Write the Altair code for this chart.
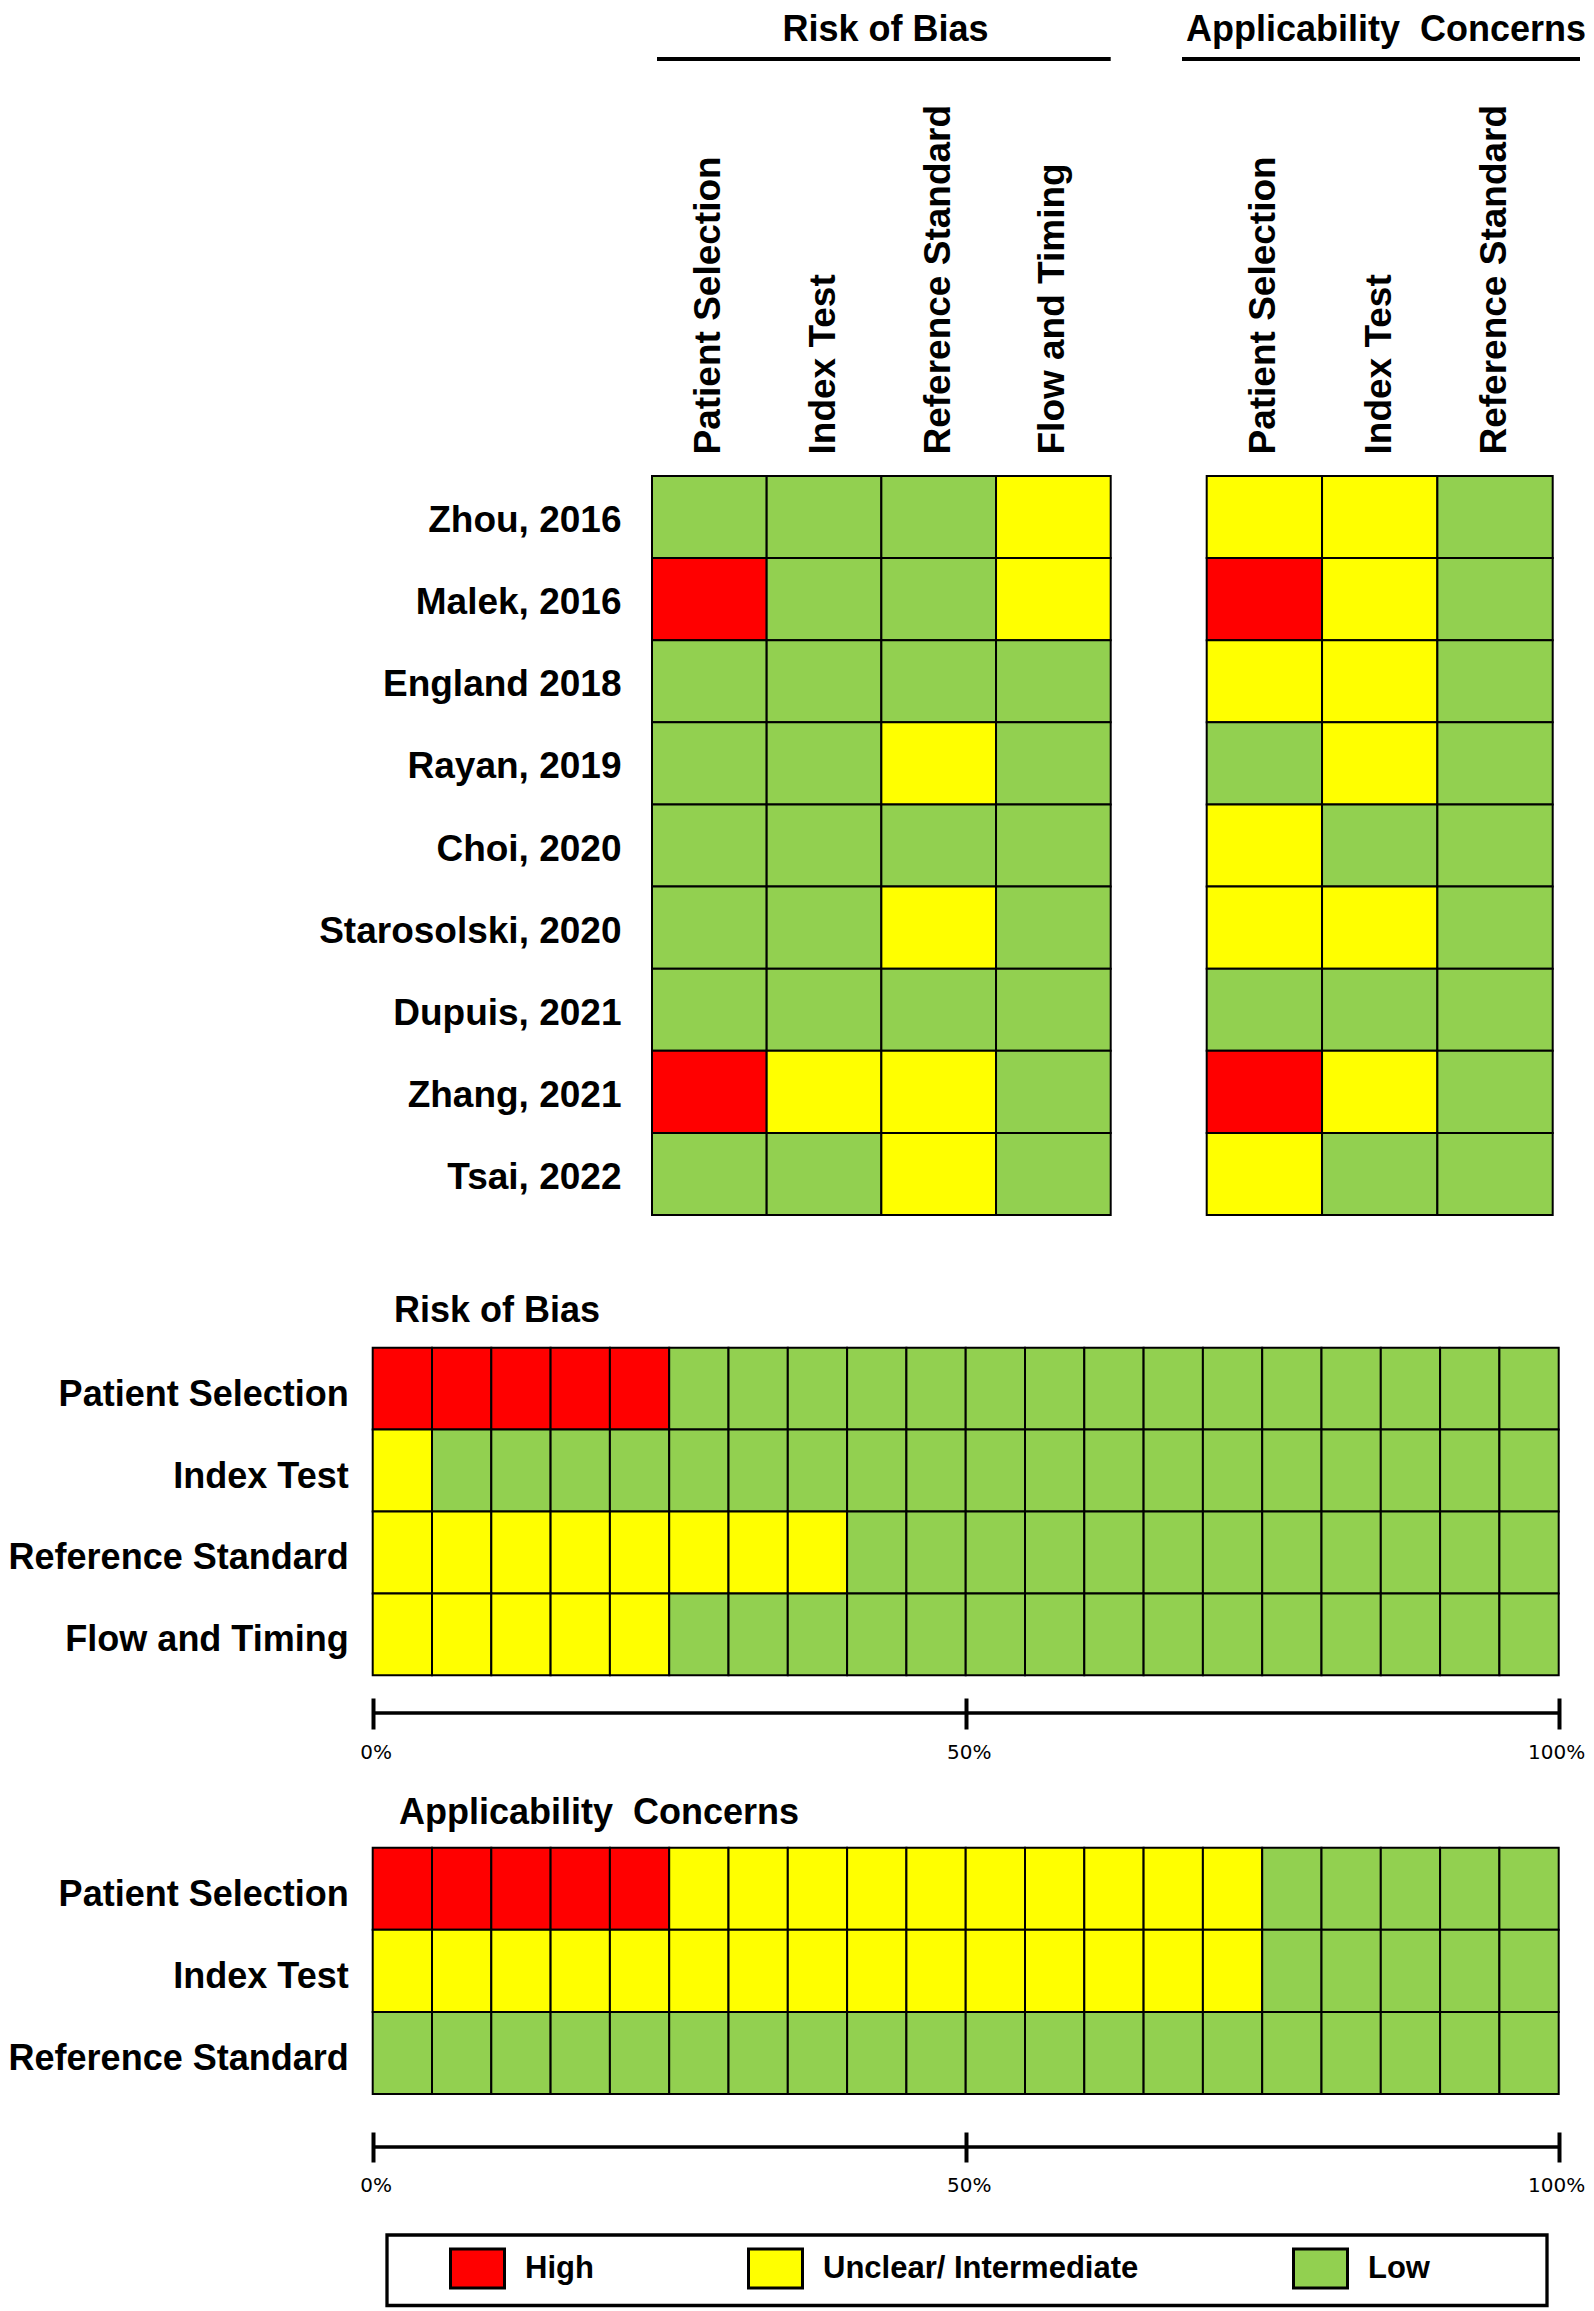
import altair as alt
import pandas as pd

# ---------------- data ----------------
studies = ["Zhou, 2016", "Malek, 2016", "England 2018", "Rayan, 2019", "Choi, 2020",
           "Starosolski, 2020", "Dupuis, 2021", "Zhang, 2021", "Tsai, 2022"]
rob_domains = ["Patient Selection", "Index Test", "Reference Standard", "Flow and Timing"]
ac_domains = ["Patient Selection", "Index Test", "Reference Standard"]

HIGH, UNCLEAR, LOW = "High", "Unclear/ Intermediate", "Low"
judgements = [HIGH, UNCLEAR, LOW]
judgement_colors = ["#FF0000", "#FFFF00", "#92D050"]

# per-study judgements (order = studies)
rob_patient_selection = [LOW, HIGH, LOW, LOW, LOW, LOW, LOW, HIGH, LOW]
rob_index_test = [LOW, LOW, LOW, LOW, LOW, LOW, LOW, UNCLEAR, LOW]
rob_reference_standard = [LOW, LOW, LOW, UNCLEAR, LOW, UNCLEAR, LOW, UNCLEAR, UNCLEAR]
rob_flow_timing = [UNCLEAR, UNCLEAR, LOW, LOW, LOW, LOW, LOW, LOW, LOW]

ac_patient_selection = [UNCLEAR, HIGH, UNCLEAR, LOW, UNCLEAR, UNCLEAR, LOW, HIGH, UNCLEAR]
ac_index_test = [UNCLEAR, UNCLEAR, UNCLEAR, UNCLEAR, LOW, UNCLEAR, LOW, UNCLEAR, LOW]
ac_reference_standard = [LOW, LOW, LOW, LOW, LOW, LOW, LOW, LOW, LOW]

# summary percentages (order = domains)
rob_summary_high = [25, 0, 0, 0]
rob_summary_unclear = [0, 5, 40, 25]
rob_summary_low = [75, 95, 60, 75]
ac_summary_high = [25, 0, 0]
ac_summary_unclear = [50, 75, 0]
ac_summary_low = [25, 25, 100]

axis_ticks = [0, 50, 100]
CELL = 5  # each summary block = 5 %

section_titles = ["Risk of Bias", "Applicability\u00a0 Concerns"]

# ---------------- style ----------------
W, H = 1578, 2303
BOLD = "Liberation Sans"
TICKFONT = "DejaVu Sans"


def grid_table(columns, domains):
    rows = []
    for d, col in zip(domains, columns):
        for s, j in zip(studies, col):
            rows.append({"study": s, "domain": d, "judgement": j})
    return pd.DataFrame(rows)


def summary_table(domains, high, unclear, low):
    rows = []
    for d, h, u, l in zip(domains, high, unclear, low):
        seq = [HIGH] * (h // CELL) + [UNCLEAR] * (u // CELL) + [LOW] * (l // CELL)
        for i, j in enumerate(seq):
            rows.append({"domain": d, "start": i * CELL, "end": (i + 1) * CELL, "judgement": j})
    return pd.DataFrame(rows)


rob_df = grid_table([rob_patient_selection, rob_index_test, rob_reference_standard, rob_flow_timing], rob_domains)
ac_df = grid_table([ac_patient_selection, ac_index_test, ac_reference_standard], ac_domains)
rob_sum_df = summary_table(rob_domains, rob_summary_high, rob_summary_unclear, rob_summary_low)
ac_sum_df = summary_table(ac_domains, ac_summary_high, ac_summary_unclear, ac_summary_low)

legend = alt.Legend(
    orient="none", legendX=441, legendY=2232, direction="horizontal",
    title=None, padding=0,
    symbolType="M-1,-0.72H1V0.72H-1Z", symbolSize=2916,
    symbolStrokeColor="black", symbolStrokeWidth=3,
    labelFont=BOLD, labelFontWeight="bold", labelFontSize=31, labelColor="black",
    labelOffset=19, labelLimit=1000, columnPadding=148,
)
color_enc = alt.Color("judgement:N", scale=alt.Scale(domain=judgements, range=judgement_colors), legend=legend)


def band(rng):
    return alt.Scale(range=rng, paddingInner=0, paddingOuter=0)


def top_x_axis():
    return alt.Axis(orient="top", offset=-468, labelAngle=-90, labelAlign="left", labelBaseline="middle",
                    labelPadding=22, ticks=False, domain=False, title=None, labelFont=BOLD,
                    labelFontWeight="bold", labelFontSize=37, labelColor="black", labelLimit=1000)


y_top_range = [468, 1207]

top_rob = alt.Chart(rob_df).mark_rect(stroke="black", strokeWidth=2).encode(
    x=alt.X("domain:N", sort=rob_domains, scale=band([644, 1102.7]), axis=top_x_axis()),
    y=alt.Y("study:N", sort=studies, scale=band(y_top_range),
            axis=alt.Axis(orient="left", offset=-644, labelPadding=31, labelOffset=4, ticks=False, domain=False,
                          title=None, labelFont=BOLD, labelFontWeight="bold", labelFontSize=37,
                          labelColor="black", labelLimit=1000)),
    color=color_enc,
)

top_ac = alt.Chart(ac_df).mark_rect(stroke="black", strokeWidth=2).encode(
    x=alt.X("domain:N", sort=ac_domains, scale=band([1198.7, 1544.7]), axis=top_x_axis()),
    y=alt.Y("study:N", sort=studies, scale=band(y_top_range), axis=None),
    color=color_enc,
)

last_tick_test = "datum.value == %d" % axis_ticks[-1]


def summary_chart(df, domains, y_range, tick_origin, tick_size, line_y):
    x_scale = alt.Scale(domain=[axis_ticks[0], axis_ticks[-1]], range=[364.7, 1550.7], nice=False, zero=False)
    cells = alt.Chart(df).mark_rect(stroke="black", strokeWidth=2).encode(
        x=alt.X("start:Q", scale=x_scale,
                axis=alt.Axis(orient="bottom", offset=tick_origin - H, values=axis_ticks,
                              labelExpr="datum.value + '%'", tickSize=tick_size, tickWidth=4,
                              tickColor="black", domain=False, grid=False, title=None,
                              labelFont=TICKFONT, labelFontSize=20, labelColor="black",
                              labelAlign={"condition": {"test": last_tick_test, "value": "right"}, "value": "center"},
                              labelOffset={"condition": {"test": last_tick_test, "value": 26}, "value": 3},
                              labelPadding=13, labelFlush=False, labelOverlap=False)),
        x2="end:Q",
        y=alt.Y("domain:N", sort=domains, scale=band(y_range),
                axis=alt.Axis(orient="left", offset=-364.7, labelPadding=24.5, labelOffset=6, ticks=False,
                              domain=False, title=None, labelFont=BOLD, labelFontWeight="bold",
                              labelFontSize=36, labelColor="black", labelLimit=1000)),
        color=color_enc,
    )
    line = alt.Chart(pd.DataFrame({"lo": [axis_ticks[0]], "hi": [axis_ticks[-1]]})).mark_rule(
        color="black", strokeWidth=3.5).encode(x="lo:Q", x2="hi:Q", y=alt.value(line_y))
    return alt.layer(cells, line)


sum_rob = summary_chart(rob_sum_df, rob_domains, [1339.7, 1667.3], 1690, 31, 1705)
sum_ac = summary_chart(ac_sum_df, ac_domains, [1839.7, 2086], 2124, 30, 2139)


def title_text(label, x, y, align):
    return alt.Chart(pd.DataFrame({"label": [label]})).mark_text(
        font=BOLD, fontWeight="bold", fontSize=36, align=align, baseline="alphabetic", color="black"
    ).encode(text="label:N", x=alt.value(x), y=alt.value(y))


def header_line(x1, x2, y):
    return alt.Chart(pd.DataFrame({"k": [0]})).mark_rule(color="black", strokeWidth=4).encode(
        x=alt.value(x1), x2=alt.value(x2), y=alt.value(y))


# frame around the legend
legend_frame = alt.Chart(pd.DataFrame({"k": [0]})).mark_rect(
    fill="white", stroke="black", strokeWidth=3.3
).encode(x=alt.value(379), x2=alt.value(1539), y=alt.value(2227), y2=alt.value(2297.5))

annotations = [
    title_text(section_titles[0], 877.5, 33, "center"),
    title_text(section_titles[1], 1378, 33, "center"),
    header_line(649, 1102.7, 51),
    header_line(1174, 1572, 51),
    title_text(section_titles[0], 386, 1314, "left"),
    title_text(section_titles[1], 391, 1816, "left"),
]

chart = alt.layer(legend_frame, top_rob, top_ac, sum_rob, sum_ac, *annotations).resolve_scale(
    x="independent", y="independent"
).properties(
    width=W, height=H, autosize=alt.AutoSizeParams(type="none"), padding=0, background="white"
).configure_view(stroke=None)

chart.save("out.html", embed_options={"renderer": "svg", "actions": False})
